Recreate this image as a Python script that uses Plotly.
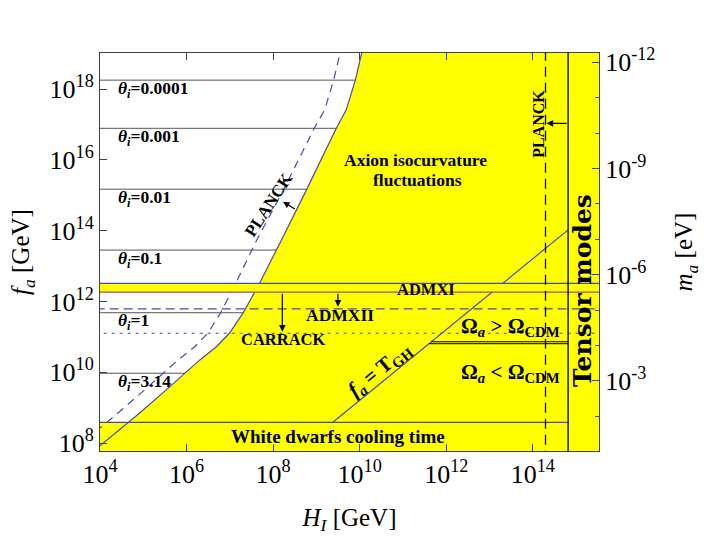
"""Axion parameter space: f_a vs H_I."""

import numpy as np
import plotly.graph_objects as go

# axis extents, log10 units
X_RANGE = [4.0, 15.53]
Y_RANGE = [7.774, 19.017]
MA_LOG_CONST = 6.756  # m_a[eV] = 5.7e6 / f_a[GeV]

# isocurvature bound (solid blue), log10 H_I / log10 f_a
iso_logH = [3.9, 4.0, 4.91, 5.53, 5.91, 6.30, 6.69, 6.99, 7.30, 7.57, 7.69,
            8.19, 8.31, 8.77, 9.46, 9.69, 9.90, 10.05, 10.12]
iso_logf = [7.82, 7.92, 8.84, 9.50, 9.92, 10.34, 10.72, 11.10, 11.66, 12.23, 12.52,
            13.73, 14.02, 15.15, 16.89, 17.41, 18.25, 19.02, 19.40]

# PLANCK forecast (dashed blue)
plk_logH = [3.9, 4.0, 4.41, 5.03, 5.41, 5.80, 6.19, 6.49, 6.78, 7.03, 7.14,
            7.62, 7.75, 8.24, 8.95, 9.19, 9.40, 9.55, 9.62]
plk_logf = [8.32, 8.42, 8.84, 9.50, 9.92, 10.34, 10.72, 11.10, 11.66, 12.23, 12.52,
            13.73, 14.02, 15.15, 16.89, 17.41, 18.25, 19.02, 19.40]

# misalignment angle lines
theta_logf = [18.25, 16.89, 15.17, 13.45, 11.68, 9.97]
theta_vals = ["0.0001", "0.001", "0.01", "0.1", "1", "3.14"]

# horizontal bounds
admx_logf = [12.26, 12.51]
admx2_logf = 11.79     # dashed
carrack_logf = 11.10   # dotted
wd_logf = 8.585        # white dwarfs
omega_logf = [10.86, 10.805]

# f_a = T_GH line
tgh_logH = [9.38, 14.816]
tgh_logf = [8.585, 14.02]

# vertical bounds
planck_logH = 14.294
tensor_logH = 14.816

BLUE = "#4a4aa8"
YELLOW = "#ffff00"
FONT = "Liberation Serif"

p10 = lambda a: np.power(10.0, np.asarray(a, dtype=float))

fig = go.Figure()


def line(x, y, color=BLUE, width=1.2, dash="solid"):
    fig.add_trace(go.Scatter(x=p10(x), y=p10(y), mode="lines",
                             line=dict(color=color, width=width, dash=dash),
                             hoverinfo="skip"))


def band(x0, x1, y0, y1):
    fig.add_trace(go.Scatter(x=p10([x0, x1, x1, x0, x0]), y=p10([y0, y0, y1, y1, y0]),
                             mode="lines", line=dict(width=0), fill="toself",
                             fillcolor=YELLOW, hoverinfo="skip"))


# theta lines (the yellow region hides their right part)
for lf in theta_logf:
    line([X_RANGE[0] - 0.1, 11.0], [lf, lf], color="#555555", width=1.0)

# excluded isocurvature region
fig.add_trace(go.Scatter(
    x=p10(iso_logH + [16.5, 16.5, 3.9]),
    y=p10(iso_logf + [19.4, 7.5, 7.5]),
    mode="lines", line=dict(width=0), fill="toself", fillcolor=YELLOW, hoverinfo="skip"))

# white dwarfs band
band(3.9, 16.5, 7.5, wd_logf)

line(iso_logH, iso_logf)
line(plk_logH, plk_logf, dash="8px,6px")
line(tgh_logH, tgh_logf)

# ADMX band on top
band(3.9, 16.5, admx_logf[0], admx_logf[1])
line([3.9, 16.5], [admx_logf[1]] * 2)
line([3.9, 16.5], [admx_logf[0]] * 2, color="#b04a78")

line([3.9, 16.5], [admx2_logf] * 2, dash="9px,5px")
line([3.9, 16.5], [carrack_logf] * 2, dash="3px,5px")
line([3.9, tensor_logH], [wd_logf] * 2)
for lf in omega_logf:
    line([lf + 0.8, tensor_logH], [lf, lf], color="black", width=1.0)

line([planck_logH] * 2, [7.5, 19.5], color="black", width=1.3, dash="10px,6px")
line([tensor_logH] * 2, [7.5, 19.5], color="black", width=1.3)

# dummy trace for the m_a axis
fig.add_trace(go.Scatter(x=[1e5], y=[1e-6], yaxis="y2", mode="markers",
                         marker=dict(opacity=0), hoverinfo="skip"))

annotations = []


def label(text, lx, ly, size=16, angle=0, xanchor="center", yshift=0, family=FONT):
    annotations.append(dict(text=text, x=lx, y=ly, xref="x", yref="y", showarrow=False,
                            textangle=angle, xanchor=xanchor, yanchor="middle",
                            yshift=yshift, font=dict(family=family, size=size, color="black")))


def arrow(x_tail, y_tail, x_head, y_head):
    annotations.append(dict(text="", x=x_head, y=y_head, ax=x_tail, ay=y_tail,
                            xref="x", yref="y", axref="x", ayref="y", showarrow=True,
                            arrowhead=2, arrowsize=1.1, arrowwidth=1.2, arrowcolor="black"))


for lf, val in zip(theta_logf, theta_vals):
    label(f"<b><i>θ<sub>i</sub></i>={val}</b>", 4.38, lf, size=17.5, xanchor="left", yshift=-9)

label("<b>Axion isocurvature</b>", 11.28, 16.00, size=17.5)
label("<b>fluctuations</b>", 11.34, 15.44, size=17.5)
label("<b>White dwarfs cooling time</b>", 9.49, 8.17, size=19)
label("<b>Tensor modes</b>", 15.145, 12.30, size=25, angle=-90, family="DejaVu Serif")
label("<b>PLANCK</b>", 14.116, 17.01, size=16, angle=-90)
label("<b>PLANCK</b>", 7.896, 14.75, size=17, angle=-56.7)
label("<b>ADMXI</b>", 11.526, 12.336, size=16.5)
label("<b>ADMXII</b>", 9.538, 11.616, size=17.5)
label("<b>CARRACK</b>", 8.227, 10.938, size=16.5)
label("<b>Ω<sub><i>a</i></sub> &gt; Ω<sub>CDM</sub></b>", 13.49, 11.27, size=21)
label("<b>Ω<sub><i>a</i></sub> &lt; Ω<sub>CDM</sub></b>", 13.49, 9.98, size=21)
label("<b><i>f<sub>a</sub></i> = T<sub>GH</sub></b>", 10.46, 10.06, size=21, angle=-39.3)

arrow(8.536, 14.582, 8.228, 14.816)
arrow(8.213, admx_logf[0], 8.213, 11.144)
arrow(9.498, admx_logf[0], 9.498, 11.85)
arrow(tensor_logH, 17.03, 14.317, 17.03)

x_ticks = [4, 6, 8, 10, 12, 14]
y_ticks = [8, 10, 12, 14, 16, 18]
ma_ticks = [-12, -9, -6, -3]
ma_minor = list(range(-12, 0))

axis_common = dict(type="log", showgrid=False, zeroline=False, showline=True,
                   linecolor="#404040", linewidth=1, ticks="inside", ticklen=7,
                   tickcolor="#404040", automargin=False,
                   tickfont=dict(family=FONT, size=26, color="black"))

fig.update_layout(
    width=708, height=536,
    margin=dict(l=100, r=109, t=53, b=85),
    plot_bgcolor="white", paper_bgcolor="white",
    showlegend=False,
    font=dict(family=FONT, size=24, color="black"),
    annotations=annotations,
    xaxis=dict(**axis_common, range=X_RANGE, mirror="ticks",
               tickvals=p10(x_ticks), ticktext=[f"10<sup>{t}</sup>" for t in x_ticks],
               title=dict(text="<i>H<sub>I</sub></i> [GeV]", standoff=20,
                          font=dict(family=FONT, size=25))),
    yaxis=dict(**axis_common, range=Y_RANGE, mirror=True,
               tickvals=p10(y_ticks), ticktext=[f"10<sup>{t}</sup>" for t in y_ticks],
               title=dict(text="<i>f<sub>a</sub></i> [GeV]", standoff=12,
                          font=dict(family=FONT, size=25))),
    yaxis2=dict(**axis_common, overlaying="y", side="right",
                range=[MA_LOG_CONST - Y_RANGE[0], MA_LOG_CONST - Y_RANGE[1]],
                tickvals=p10(ma_ticks), ticktext=[f"10<sup>{t}</sup>" for t in ma_ticks],
                minor=dict(tickvals=p10(ma_minor), ticks="inside", ticklen=4,
                           tickcolor="#404040"),
                title=dict(text="<i>m<sub>a</sub></i> [eV]", standoff=20,
                           font=dict(family=FONT, size=25))),
)

fig.write_html("out.html", config={"displayModeBar": False},
               post_script="document.body.style.margin='0';document.body.style.padding='0';")
